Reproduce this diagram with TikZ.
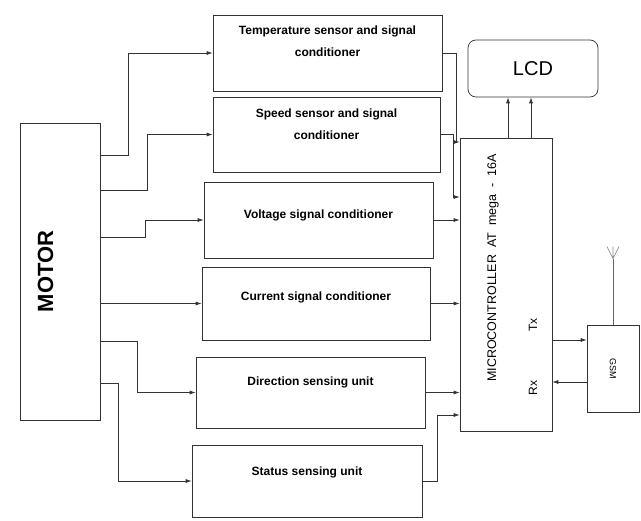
\documentclass[tikz,border=0pt]{standalone}
\usepackage{fontspec}
\setmainfont{Liberation Sans}
\usetikzlibrary{positioning, arrows.meta, calc}

% text of a unit, lifted a little above the middle of its box
\newcommand{\unittxt}[2]{\raisebox{#1}[0pt][0pt]{\begin{tabular}{@{}c@{}}#2\end{tabular}}}

\begin{document}
\begin{tikzpicture}[x=1pt, y=-1pt, >={Latex[length=6pt,width=4pt]}, line width=0.7pt,
  block/.style={draw=black!80, rectangle, inner sep=2pt,
    font=\fontsize{12}{14}\selectfont\bfseries},
  sig/.style={draw=black!80, ->}]

\useasboundingbox[fill=white] (0,0) rectangle (641,521);

% ---------- motor ----------
\node[block, minimum width=80, minimum height=297,
  font=\fontsize{22}{24}\selectfont\bfseries] (motor) at (60,271.5)
  {\rotatebox{90}{\raisebox{7pt}[0pt][0pt]{MOTOR}}};

% ---------- sensing / conditioning units ----------
\node[block, minimum width=229, minimum height=76] (temp)  at (327.5,53)
  {\unittxt{7pt}{Temperature sensor and signal\\[8pt]conditioner}};
\node[block, minimum width=227, minimum height=75] (speed) at (326.5,134.5)
  {\unittxt{6pt}{Speed sensor and signal\\[8pt]conditioner}};
\node[block, minimum width=229, minimum height=76] (volt)  at (318.5,220)   {\unittxt{1pt}{Voltage signal conditioner}};
\node[block, minimum width=228, minimum height=73] (curr)  at (316,303.5)   {\unittxt{3pt}{Current signal conditioner}};
\node[block, minimum width=229, minimum height=71] (dir)   at (310.5,392.5) {\unittxt{7pt}{Direction sensing unit}};
\node[block, minimum width=230, minimum height=72] (stat)  at (307,481)     {\unittxt{5pt}{Status sensing unit}};

% ---------- controller, display, modem ----------
\node[block, minimum width=92, minimum height=293] (mcu) at (506,284.5) {};
\node[font=\fontsize{12.5}{14}\selectfont, rotate=90] (mcutxt) at (493,268)
  {MICROCONTROLLER\ \ AT\ \ mega\ \ -\ \ 16A};
\node[font=\fontsize{12}{14}\selectfont, rotate=90] (txl) at (533,325) {Tx};
\node[font=\fontsize{12}{14}\selectfont, rotate=90] (rxl) at (533,388) {Rx};

\node[block, rounded corners=8pt, minimum width=130, minimum height=57,
  font=\fontsize{20}{22}\selectfont] (lcd) at (533,68.5) {LCD};

\node[block, minimum width=52, minimum height=87,
  font=\fontsize{9}{10}\selectfont] (gsm) at (613,368.5) {\rotatebox{-90}{GSM}};

% antenna
\draw[black!60] (gsm.north) -- ++(0,-66) coordinate (ant);
\draw[black!45] (ant) -- ++(-6,-12) (ant) -- ++(6,-12) (ant) -- ++(0,-12);

% ---------- motor to units ----------
\coordinate (m1) at (motor.east |- 0,155);
\coordinate (m2) at (motor.east |- 0,190);
\coordinate (m3) at (motor.east |- 0,237);
\coordinate (m4) at (motor.east |- curr.west);
\coordinate (m5) at (motor.east |- 0,341);
\coordinate (m6) at (motor.east |- 0,383);

\draw[sig] (m1) -- ++(28,0) |- (temp.west);
\draw[sig] (m2) -- ++(47,0) |- (speed.west);
\draw[sig] (m3) -- ++(45,0) |- (volt.west);
\draw[sig] (m4) -- (curr.west);
\draw[sig] (m5) -- ++(37,0) |- (dir.west);
\draw[sig] (m6) -- ++(18,0) |- (stat.west);

% ---------- units to controller ----------
\coordinate (i1) at (mcu.west |- 0,142);
\coordinate (i2) at (mcu.west |- 0,197);
\coordinate (i6) at (mcu.west |- 0,415);

\draw[sig] (temp.east) -- ++(14,0) |- (i1);
\draw[sig] (speed.east) -- ++(13,0) |- (i2);
\draw[sig] (volt.east) -- (mcu.west |- volt.east);
\draw[sig] (curr.east) -- (mcu.west |- curr.east);
\draw[sig] (dir.east) -- (mcu.west |- dir.east);
\draw[sig] (stat.east) -- ++(15,0) |- (i6);

% ---------- controller to LCD ----------
\draw[sig] ([xshift=2pt]mcu.north) -- ([xshift=2pt]mcu.north |- lcd.south);
\draw[sig] ([xshift=25pt]mcu.north) -- ([xshift=25pt]mcu.north |- lcd.south);

% ---------- serial link Tx / Rx ----------
\coordinate (tx) at (mcu.east |- 0,340);
\coordinate (rx) at (gsm.west |- 0,382);
\draw[sig] (tx) -- (gsm.west |- tx);
\draw[sig] (rx) -- (mcu.east |- rx);

\end{tikzpicture}
\end{document}
